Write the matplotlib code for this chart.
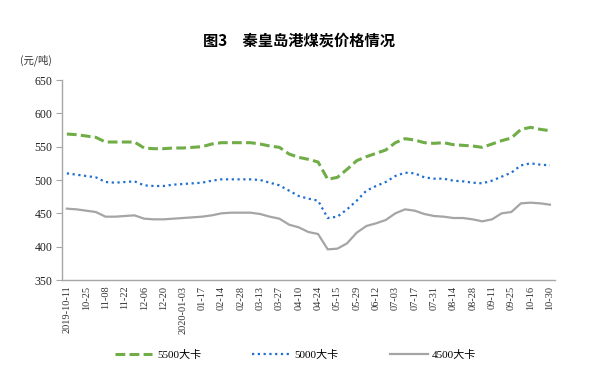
import matplotlib
matplotlib.use("Agg")
import matplotlib.pyplot as plt

plt.rcParams['font.family'] = ['Liberation Serif', 'Noto Sans CJK SC', 'DejaVu Sans']

title = "图3　秦皇岛港煤炭价格情况"
unit_label = "(元/吨)"

tick_labels = ["2019-10-11", "10-25", "11-08", "11-22", "12-06", "12-20",
               "2020-01-03", "01-17", "02-14", "02-28", "03-13", "03-27",
               "04-10", "04-24", "05-15", "05-29", "06-12", "07-03",
               "07-17", "07-31", "08-14", "08-28", "09-11", "09-25",
               "10-16", "10-30"]

series_names = ["5500大卡", "5000大卡", "4500大卡"]

kcal5500 = [569, 568, 566, 564, 557, 557, 557, 557, 548, 547, 547, 548, 548,
            549, 550, 554, 556, 556, 556, 556, 554, 551, 549, 539, 534, 531,
            527, 501, 504, 516, 529, 535, 540, 545, 556, 562, 560, 556, 555,
            556, 553, 552, 551, 549, 554, 559, 563, 576, 579, 576, 574]

kcal5000 = [510, 508, 506, 504, 497, 496, 497, 498, 492, 491, 491, 493, 494,
            495, 496, 499, 501, 501, 501, 501, 500, 496, 492, 484, 476, 472,
            469, 443, 445, 456, 469, 484, 491, 497, 506, 511, 510, 504, 502,
            502, 499, 498, 496, 495, 499, 505, 511, 522, 525, 523, 522]

kcal4500 = [457, 456, 454, 452, 445, 445, 446, 447, 442, 441, 441, 442, 443,
            444, 445, 447, 450, 451, 451, 451, 449, 445, 442, 433, 429, 422,
            419, 396, 397, 405, 421, 431, 435, 440, 450, 456, 454, 449, 446,
            445, 443, 443, 441, 438, 441, 450, 452, 465, 466, 465, 463]

yticks = [350, 400, 450, 500, 550, 600, 650]

fig = plt.figure(figsize=(6.11, 3.86), dpi=100)
ax = fig.add_axes([0.1015, 0.2746, 0.8065, 0.5181])

x = list(range(len(kcal5500)))
l1, = ax.plot(x, kcal5500, color='#70AD47', lw=2.2, linestyle=(0, (3.2, 1.4)),
              dash_capstyle='butt', label=series_names[0])
l2, = ax.plot(x, kcal5000, color='#1F6FD0', lw=1.6, linestyle=(0, (1, 1.6)),
              label=series_names[1])
l3, = ax.plot(x, kcal4500, color='#A5A5A5', lw=1.6, linestyle='-',
              label=series_names[2])

ax.set_xlim(-0.5, len(x) - 0.5)
ax.set_ylim(350, 650)
ax.set_yticks(yticks)
ax.set_yticklabels([str(v) for v in yticks], fontsize=8.5, color='#222222')
ax.set_xticks(list(range(0, len(x), 2)))
ax.set_xticklabels(tick_labels, rotation=90, fontsize=7.5, color='#333333')

for s in ['top', 'right']:
    ax.spines[s].set_visible(False)
for s in ['left', 'bottom']:
    ax.spines[s].set_color('#A6A6A6')
    ax.spines[s].set_linewidth(1)
ax.tick_params(axis='y', length=4, width=0.8, color='#A6A6A6', pad=3)
ax.tick_params(axis='x', length=0, pad=4)

fig.text(0.49, 0.895, title, ha='center', va='center', fontsize=11,
         fontweight='bold', family=['Noto Sans CJK SC', 'DejaVu Sans'])
fig.text(0.033, 0.845, unit_label, ha='left', va='center', fontsize=7.5,
         color='#333333', family=['Noto Sans CJK SC', 'DejaVu Sans'])

fig.legend(handles=[l1, l2, l3], loc='center', bbox_to_anchor=(0.4836, 0.08),
           ncol=3, frameon=False, fontsize=8, handlelength=3.4,
           handletextpad=0.4, columnspacing=4.6)

fig.savefig("out.png", dpi=100)
